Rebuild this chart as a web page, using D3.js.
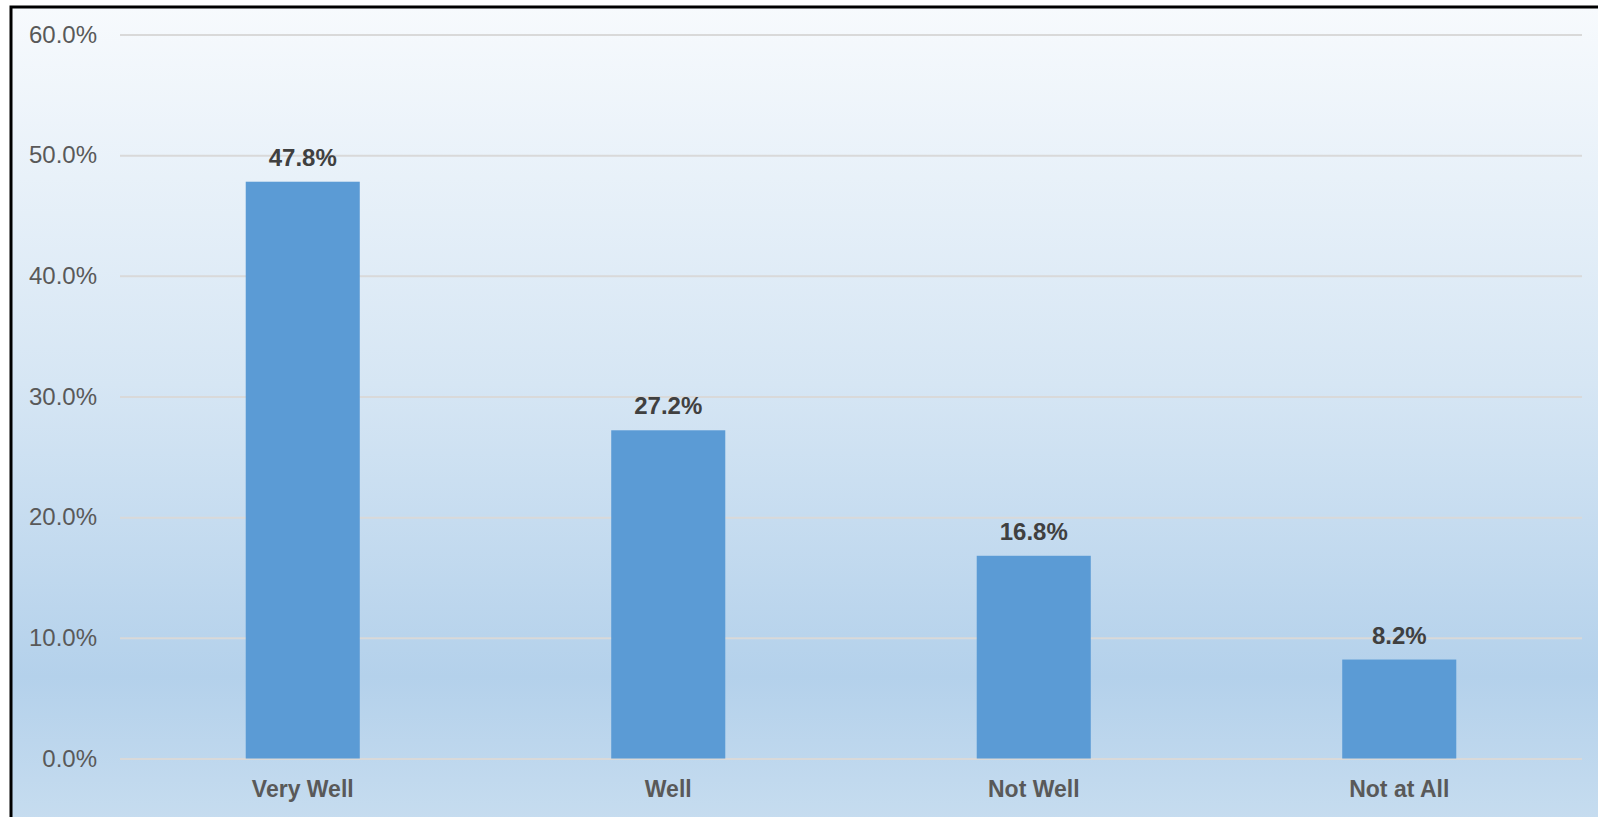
<!DOCTYPE html>
<html>
<head>
<meta charset="utf-8">
<script src="https://cdn.jsdelivr.net/npm/d3@7"></script>
<style>
    html, body { margin: 0; padding: 0; background: #fff; }
    svg { display: block; }
</style>
</head>
<body>
<div id="chart"></div>
<script>
// chart data
const categories = ['Very Well', 'Well', 'Not Well', 'Not at All'];
const shares = [0.478, 0.272, 0.168, 0.082];
const yTicks = [0, 0.1, 0.2, 0.3, 0.4, 0.5, 0.6];

function createChart() {
    const W = 1598, H = 817;
    const margin = {top: 34.5, right: 16, bottom: 58.5, left: 120};
    const width = W - margin.left - margin.right;
    const height = H - margin.top - margin.bottom;

    const svg = d3.select('#chart')
        .append('svg')
        .attr('width', W)
        .attr('height', H);

    // Background gradient
    const grad = svg.append('defs')
        .append('linearGradient')
        .attr('id', 'bg')
        .attr('x1', 0).attr('y1', 0)
        .attr('x2', 0).attr('y2', 1);
    grad.append('stop').attr('offset', '0%').attr('stop-color', '#F7FAFD');
    grad.append('stop').attr('offset', '45%').attr('stop-color', '#D6E6F4');
    grad.append('stop').attr('offset', '80%').attr('stop-color', '#B4D1EB');
    grad.append('stop').attr('offset', '100%').attr('stop-color', '#C9DEF0');

    svg.append('rect')
        .attr('x', 11)
        .attr('y', 7)
        .attr('width', W + 20)
        .attr('height', H + 20)
        .attr('fill', 'url(#bg)')
        .attr('stroke', '#000')
        .attr('stroke-width', 3);

    const g = svg.append('g')
        .attr('transform', `translate(${margin.left},${margin.top})`);

    // Scales
    const x = d3.scaleBand()
        .domain(categories)
        .range([0, width])
        .paddingInner(0.688)
        .paddingOuter(0.344);

    const y = d3.scaleLinear()
        .domain([0, 0.6])
        .range([height, 0]);

    // Gridlines + y labels
    const yAxis = g.append('g')
        .call(d3.axisLeft(y)
            .tickValues(yTicks)
            .tickFormat(d3.format('.1%'))
            .tickSize(-width)
            .tickPadding(23));
    yAxis.select('.domain').remove();
    yAxis.selectAll('line')
        .attr('stroke', '#D9D9D9')
        .attr('stroke-width', 2);
    yAxis.selectAll('text')
        .attr('fill', '#595959')
        .style('font-family', '"Liberation Sans", Arial, sans-serif')
        .style('font-size', '24px');

    // Bars
    g.selectAll('.bar')
        .data(shares)
        .enter()
        .append('rect')
        .attr('class', 'bar')
        .attr('x', (d, i) => x(categories[i]))
        .attr('width', x.bandwidth())
        .attr('y', d => y(d))
        .attr('height', d => height - y(d))
        .attr('fill', '#5B9BD5');

    // Value labels
    g.selectAll('.label')
        .data(shares)
        .enter()
        .append('text')
        .attr('class', 'label')
        .attr('x', (d, i) => x(categories[i]) + x.bandwidth() / 2)
        .attr('y', d => y(d) - 16)
        .attr('text-anchor', 'middle')
        .attr('fill', '#404040')
        .style('font-family', '"Liberation Sans", Arial, sans-serif')
        .style('font-size', '24px')
        .style('font-weight', 'bold')
        .text(d => d3.format('.1%')(d));

    // Category axis
    const xAxis = g.append('g')
        .attr('transform', `translate(0,${height})`)
        .call(d3.axisBottom(x).tickSize(0).tickPadding(22));
    xAxis.select('.domain').remove();
    xAxis.selectAll('text')
        .attr('fill', '#595959')
        .style('font-family', '"Liberation Sans", Arial, sans-serif')
        .style('font-size', '23px')
        .style('font-weight', 'bold');
}

createChart();
</script>
</body>
</html>
